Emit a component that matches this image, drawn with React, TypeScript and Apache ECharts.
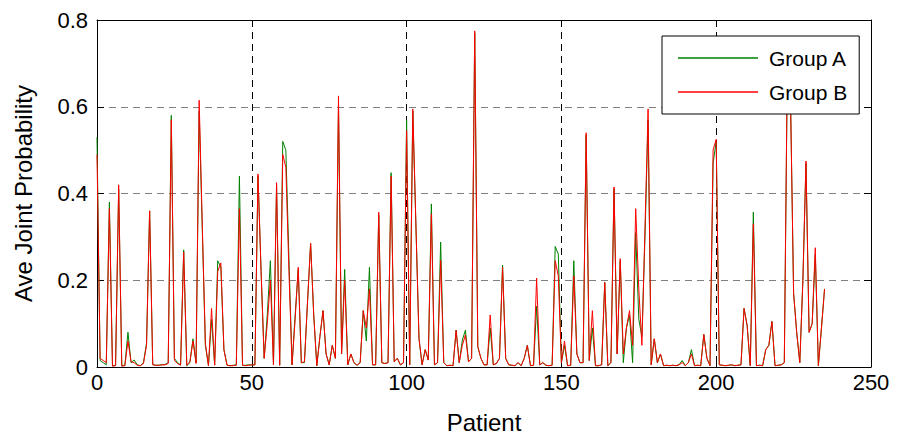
import React, { useEffect, useRef } from "react";
import * as echarts from "echarts";

const groupA: number[] = [
  0.53, 0.015, 0.01, 0.005, 0.38, 0.003, 0.004, 0.41, 0.003, 0.004,
  0.08, 0.01, 0.016, 0.005, 0.003, 0.01, 0.055, 0.36, 0.006, 0.004,
  0.004, 0.005, 0.006, 0.01, 0.58, 0.02, 0.01, 0.005, 0.27, 0.003,
  0.01, 0.065, 0.01, 0.59, 0.32, 0.05, 0.003, 0.11, 0.005, 0.245,
  0.23, 0.04, 0.004, 0.003, 0.004, 0.005, 0.44, 0.004, 0.004, 0.005,
  0.005, 0.005, 0.44, 0.22, 0.02, 0.12, 0.245, 0.005, 0.42, 0.004,
  0.52, 0.5, 0.25, 0.005, 0.12, 0.225, 0.01, 0.01, 0.15, 0.285,
  0.12, 0.003, 0.07, 0.13, 0.03, 0.005, 0.05, 0.02, 0.6, 0.03,
  0.225, 0.005, 0.03, 0.01, 0.004, 0.01, 0.13, 0.06, 0.23, 0.005,
  0.005, 0.35, 0.01, 0.008, 0.01, 0.448, 0.012, 0.02, 0.005, 0.01,
  0.57, 0.005, 0.59, 0.33, 0.066, 0.005, 0.04, 0.016, 0.376, 0.005,
  0.01, 0.288, 0.01, 0.003, 0.004, 0.003, 0.085, 0.01, 0.062, 0.085,
  0.012, 0.02, 0.77, 0.047, 0.02, 0.005, 0.005, 0.09, 0.005, 0.008,
  0.02, 0.235, 0.02, 0.005, 0.004, 0.003, 0.01, 0.003, 0.02, 0.05,
  0.003, 0.004, 0.14, 0.005, 0.01, 0.004, 0.003, 0.004, 0.278, 0.26,
  0.01, 0.05, 0.003, 0.004, 0.245, 0.03, 0.01, 0.01, 0.535, 0.015,
  0.09, 0.003, 0.003, 0.005, 0.195, 0.003, 0.01, 0.41, 0.03, 0.245,
  0.01, 0.09, 0.12, 0.01, 0.31, 0.11, 0.07, 0.3, 0.57, 0.005,
  0.065, 0.01, 0.03, 0.003, 0.004, 0.003, 0.004, 0.003, 0.005, 0.015,
  0.003, 0.01, 0.04, 0.003, 0.004, 0.003, 0.075, 0.02, 0.003, 0.47,
  0.52, 0.005, 0.004, 0.003, 0.004, 0.005, 0.003, 0.004, 0.005, 0.135,
  0.095, 0.003, 0.357, 0.003, 0.004, 0.003, 0.04, 0.05, 0.105, 0.003,
  0.004, 0.005, 0.01, 0.7, 0.62, 0.17, 0.08, 0.01, 0.2, 0.47,
  0.08, 0.1, 0.26, 0.003, 0.09, 0.18,
];

const groupB: number[] = [
  0.49, 0.02, 0.015, 0.01, 0.365, 0.002, 0.003, 0.42, 0.002, 0.003,
  0.06, 0.012, 0.01, 0.004, 0.003, 0.008, 0.05, 0.36, 0.005, 0.004,
  0.004, 0.005, 0.005, 0.008, 0.57, 0.015, 0.008, 0.004, 0.265, 0.004,
  0.012, 0.06, 0.008, 0.615, 0.33, 0.055, 0.003, 0.135, 0.004, 0.22,
  0.24, 0.04, 0.004, 0.003, 0.003, 0.004, 0.365, 0.004, 0.003, 0.004,
  0.005, 0.005, 0.445, 0.22, 0.02, 0.1, 0.2, 0.005, 0.425, 0.004,
  0.49, 0.46, 0.22, 0.005, 0.11, 0.23, 0.01, 0.012, 0.15, 0.285,
  0.12, 0.003, 0.07, 0.13, 0.03, 0.005, 0.05, 0.02, 0.625, 0.03,
  0.2, 0.005, 0.03, 0.01, 0.004, 0.01, 0.13, 0.09, 0.18, 0.005,
  0.005, 0.357, 0.01, 0.008, 0.01, 0.44, 0.012, 0.02, 0.005, 0.01,
  0.545, 0.005, 0.595, 0.33, 0.066, 0.005, 0.04, 0.016, 0.353, 0.005,
  0.01, 0.246, 0.01, 0.003, 0.004, 0.003, 0.085, 0.01, 0.05, 0.074,
  0.012, 0.02, 0.775, 0.047, 0.02, 0.005, 0.005, 0.12, 0.005, 0.008,
  0.02, 0.23, 0.02, 0.005, 0.004, 0.003, 0.01, 0.003, 0.02, 0.05,
  0.003, 0.004, 0.205, 0.005, 0.01, 0.004, 0.003, 0.004, 0.245, 0.21,
  0.01, 0.06, 0.003, 0.004, 0.21, 0.03, 0.01, 0.01, 0.54, 0.015,
  0.13, 0.003, 0.003, 0.005, 0.195, 0.003, 0.01, 0.415, 0.03, 0.25,
  0.03, 0.09, 0.13, 0.05, 0.365, 0.18, 0.05, 0.32, 0.595, 0.005,
  0.065, 0.01, 0.03, 0.003, 0.004, 0.003, 0.004, 0.003, 0.005, 0.01,
  0.003, 0.01, 0.03, 0.003, 0.004, 0.003, 0.075, 0.02, 0.003, 0.5,
  0.525, 0.005, 0.004, 0.003, 0.004, 0.005, 0.003, 0.004, 0.005, 0.135,
  0.095, 0.003, 0.33, 0.003, 0.004, 0.003, 0.04, 0.05, 0.105, 0.003,
  0.004, 0.005, 0.01, 0.72, 0.62, 0.17, 0.08, 0.01, 0.2, 0.475,
  0.08, 0.1, 0.275, 0.003, 0.09, 0.18,
];

const seriesNames = ["Group A", "Group B"];
const xTicks = { min: 0, max: 250, interval: 50 };
const yTicks = { min: 0, max: 0.8, interval: 0.2 };

const FONT = "Liberation Sans, Arial, Helvetica, sans-serif";

export default function App() {
  const ref = useRef<HTMLDivElement>(null);

  useEffect(() => {
    if (!ref.current) return;
    const chart = echarts.init(ref.current, undefined, { renderer: "svg" });
    const toPairs = (arr: number[]) => arr.map((v, i) => [i, v]);
    const hiddenAxisCommon = {
      axisLabel: { show: false },
      splitLine: { show: false },
      axisLine: { show: true, onZero: false, lineStyle: { color: "#000", width: 1 } },
      axisTick: { show: true, inside: true, length: 7, lineStyle: { color: "#000" } },
    };
    chart.setOption({
      animation: false,
      backgroundColor: "#fff",
      grid: { left: 97, right: 28, top: 20, bottom: 70, containLabel: false },
      legend: {
        data: seriesNames,
        orient: "vertical",
        left: 662,
        top: 36,
        padding: [11, 12, 11, 16],
        itemGap: 12,
        itemWidth: 80,
        itemHeight: 1.5,
        icon: "rect",
        backgroundColor: "#fff",
        borderColor: "#000",
        borderWidth: 1,
        z: 10,
        textStyle: {
          fontFamily: FONT,
          fontSize: 21,
          color: "#000",
          padding: [0, 0, 0, 6],
          lineHeight: 22,
        },
      },
      xAxis: [
        {
          type: "value",
          position: "bottom",
          min: xTicks.min,
          max: xTicks.max,
          interval: xTicks.interval,
          name: "Patient",
          nameLocation: "middle",
          nameGap: 43,
          nameTextStyle: { fontFamily: FONT, fontSize: 24, color: "#000" },
          axisLine: { show: true, onZero: false, lineStyle: { color: "#000", width: 1 } },
          axisTick: { show: true, inside: true, length: 7, lineStyle: { color: "#000" } },
          axisLabel: { fontFamily: FONT, fontSize: 22, color: "#000", margin: 4 },
          splitLine: { show: true, lineStyle: { color: "#000", type: [7, 5], width: 1 } },
        },
        {
          type: "value",
          position: "top",
          min: xTicks.min,
          max: xTicks.max,
          interval: xTicks.interval,
          ...hiddenAxisCommon,
        },
      ],
      yAxis: [
        {
          type: "value",
          position: "left",
          min: yTicks.min,
          max: yTicks.max,
          interval: yTicks.interval,
          name: "Ave Joint Probability",
          nameLocation: "middle",
          nameGap: 62,
          nameTextStyle: { fontFamily: FONT, fontSize: 24, color: "#000" },
          axisLine: { show: true, onZero: false, lineStyle: { color: "#000", width: 1 } },
          axisTick: { show: true, inside: true, length: 7, lineStyle: { color: "#000" } },
          axisLabel: { fontFamily: FONT, fontSize: 22, color: "#000", margin: 9 },
          splitLine: { show: true, lineStyle: { color: "#808080", type: [7, 5], width: 1 } },
        },
        {
          type: "value",
          position: "right",
          min: yTicks.min,
          max: yTicks.max,
          interval: yTicks.interval,
          ...hiddenAxisCommon,
        },
      ],
      series: [
        {
          name: seriesNames[0],
          type: "line",
          data: toPairs(groupA),
          showSymbol: false,
          symbol: "none",
          lineStyle: { color: "#008000", width: 1 },
          itemStyle: { color: "#008000" },
          z: 2,
        },
        {
          name: seriesNames[1],
          type: "line",
          data: toPairs(groupB),
          showSymbol: false,
          symbol: "none",
          lineStyle: { color: "#ff0000", width: 1 },
          itemStyle: { color: "#ff0000" },
          z: 3,
        },
      ],
    });
    return () => chart.dispose();
  }, []);

  return (
    <div
      ref={ref}
      style={{ position: "fixed", left: 0, top: 0, width: 899, height: 439, background: "#fff" }}
    />
  );
}
